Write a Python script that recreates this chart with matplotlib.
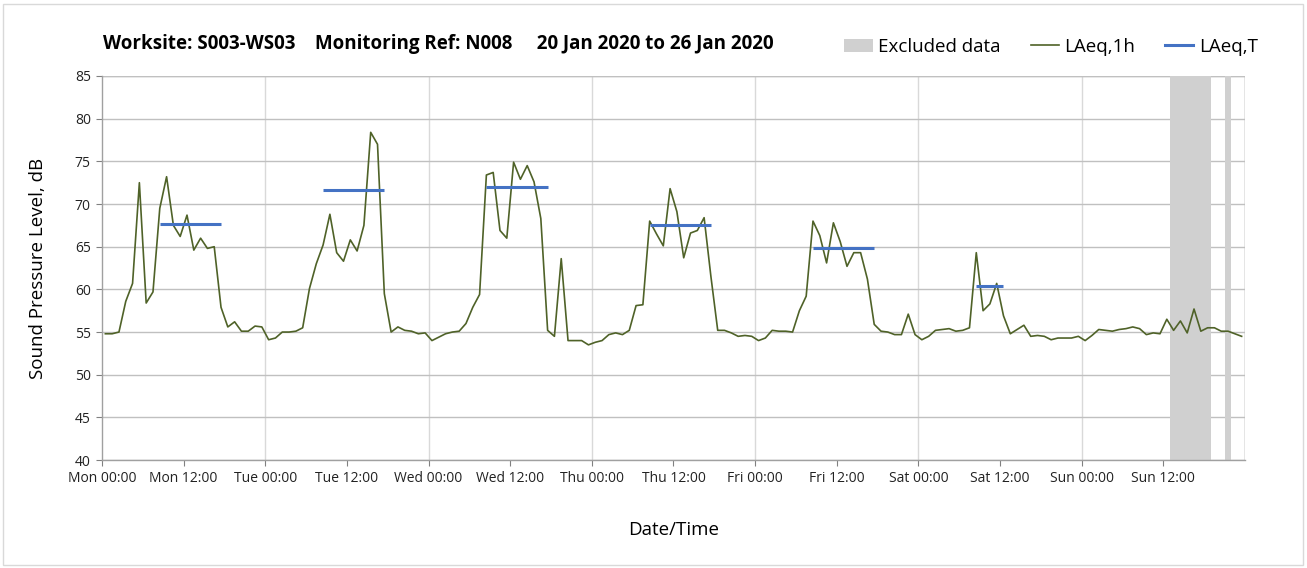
import numpy as np
import matplotlib.pyplot as plt
from matplotlib.patches import Patch, Rectangle
from matplotlib.lines import Line2D

plt.rcParams['font.family'] = ['Open Sans', 'DejaVu Sans']

# hourly LAeq,1h readings, Mon 00:00 .. Sun 23:00
laeq_1h = [
    # Mon
    54.8, 54.8, 55.0, 58.6, 60.7, 72.5, 58.4, 59.7, 69.5, 73.2, 67.5, 66.2,
    68.7, 64.6, 66.0, 64.8, 65.0, 57.9, 55.6, 56.2, 55.1, 55.1, 55.7, 55.6,
    # Tue
    54.1, 54.3, 55.0, 55.0, 55.1, 55.5, 60.1, 63.0, 65.2, 68.8, 64.3, 63.3,
    65.8, 64.5, 67.5, 78.4, 77.0, 59.5, 55.0, 55.6, 55.2, 55.1, 54.8, 54.9,
    # Wed
    54.0, 54.4, 54.8, 55.0, 55.1, 56.0, 57.9, 59.4, 73.4, 73.7, 66.9, 66.0,
    74.9, 72.9, 74.5, 72.6, 68.3, 55.2, 54.5, 63.6, 54.0, 54.0, 54.0, 53.5,
    # Thu
    53.8, 54.0, 54.7, 54.9, 54.7, 55.2, 58.1, 58.2, 68.0, 66.5, 65.1, 71.8,
    69.1, 63.7, 66.6, 66.9, 68.4, 61.5, 55.2, 55.2, 54.9, 54.5, 54.6, 54.5,
    # Fri
    54.0, 54.3, 55.2, 55.1, 55.1, 55.0, 57.5, 59.2, 68.0, 66.3, 63.1, 67.8,
    65.6, 62.7, 64.3, 64.3, 61.2, 55.9, 55.1, 55.0, 54.7, 54.7, 57.1, 54.7,
    # Sat
    54.1, 54.5, 55.2, 55.3, 55.4, 55.1, 55.2, 55.5, 64.3, 57.5, 58.3, 60.7,
    56.9, 54.8, 55.3, 55.8, 54.5, 54.6, 54.5, 54.1, 54.3, 54.3, 54.3, 54.5,
    # Sun
    54.0, 54.6, 55.3, 55.2, 55.1, 55.3, 55.4, 55.6, 55.4, 54.7, 54.9, 54.8,
    56.5, 55.2, 56.3, 54.9, 57.7, 55.1, 55.5, 55.5, 55.1, 55.1, 54.8, 54.5,
]

# LAeq,T over each working period: (first hour, last hour, level)
laeq_t_start = [8, 32, 56, 80, 104, 128]
laeq_t_end = [17, 41, 65, 89, 113, 132]
laeq_t_level = [67.7, 71.7, 72.0, 67.6, 64.9, 60.4]

# excluded data periods (hours from Mon 00:00)
excl_start = [157, 165]
excl_end = [163, 166]

days = ['Mon', 'Tue', 'Wed', 'Thu', 'Fri', 'Sat', 'Sun']
tick_labels = []
for d in days:
    tick_labels += ['{} 00:00'.format(d), '{} 12:00'.format(d)]

green = '#4F6228'
blue = '#4472C4'
band = '#D0D0D0'

fig = plt.figure(figsize=(13.07, 5.68), dpi=100)
ax = fig.add_axes([0.078, 0.19, 0.8746, 0.6762])

for s, e in zip(excl_start, excl_end):
    ax.axvspan(s, e, color=band, lw=0, zorder=1)

hours = np.arange(len(laeq_1h)) + 0.5
ax.plot(hours, laeq_1h, color=green, lw=1.2, zorder=3)

for s, e, v in zip(laeq_t_start, laeq_t_end, laeq_t_level):
    ax.plot([s + 0.5, e + 0.5], [v, v], color=blue, lw=2.2, zorder=4,
            solid_capstyle='butt')

ax.set_xlim(0, 168)
ax.set_ylim(40, 85)
ax.set_yticks(np.arange(40, 86, 5))
ax.set_xticks(np.arange(0, 168, 12))
ax.set_xticklabels(tick_labels)
ax.tick_params(axis='both', labelsize=10, length=4, width=0.8, pad=4,
               colors='#808080', labelcolor='#222222')

ax.grid(axis='y', color='#C0C0C0', lw=1.0, zorder=0)
for x in range(24, 169, 24):
    ax.axvline(x, color='#D9D9D9', lw=1.0, zorder=0)
ax.axvline(168, color='#A0A0A0', lw=1.0, zorder=0)
ax.axhline(85, color='#C0C0C0', lw=1.0, zorder=0)
for side in ['top', 'right']:
    ax.spines[side].set_visible(False)
for side in ['left', 'bottom']:
    ax.spines[side].set_color('#A0A0A0')
    ax.spines[side].set_linewidth(1.0)
ax.set_axisbelow(True)

ax.set_ylabel('Sound Pressure Level, dB', fontsize=13.5, labelpad=20)
ax.set_xlabel('Date/Time', fontsize=13.5, labelpad=25)

fig.text(103 / 1307, 1 - 44 / 568,
         'Worksite: S003-WS03    Monitoring Ref: N008     20 Jan 2020 to 26 Jan 2020',
         fontsize=13.5, fontweight='bold', va='center', ha='left')

handles = [Patch(facecolor=band, edgecolor='none'),
           Line2D([], [], color=green, lw=1.2),
           Line2D([], [], color=blue, lw=2.2)]
fig.legend(handles, ['Excluded data', 'LAeq,1h', 'LAeq,T'], ncol=3,
           frameon=False, fontsize=13.5, loc='center right',
           bbox_to_anchor=(1258 / 1307, 1 - 47 / 568), handlelength=1.5,
           columnspacing=1.6, handletextpad=0.3, borderpad=0,
           borderaxespad=0)

fig.patches.append(Rectangle((3 / 1307, 3 / 568), 1 - 7 / 1307, 1 - 7 / 568,
                             transform=fig.transFigure, fill=False,
                             edgecolor='#D9D9D9', lw=1.0))

fig.savefig('out.png', dpi=100)
